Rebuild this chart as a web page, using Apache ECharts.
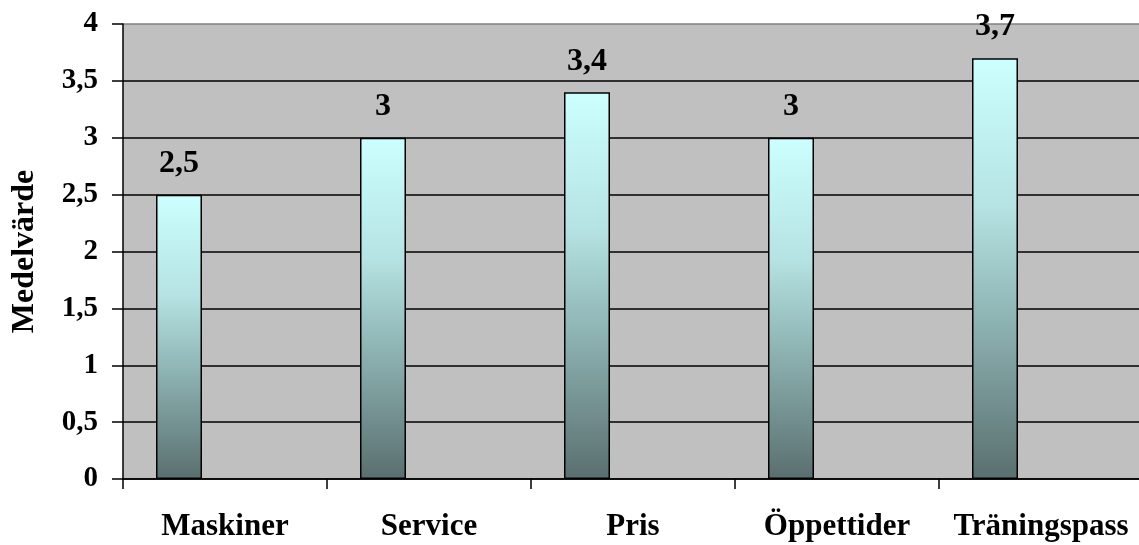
<!DOCTYPE html>
<html>
<head>
<meta charset="utf-8">
<script src="https://cdn.jsdelivr.net/npm/echarts@6/dist/echarts.min.js"></script>
<style>
html,body{margin:0;padding:0;background:#fff;}
#chart{width:1139px;height:545px;}
</style>
</head>
<body>
<div id="chart"></div>
<script>
const categories = ['Maskiner', 'Service', 'Pris', 'Öppettider', 'Träningspass'];
const values = [2.5, 3, 3.4, 3, 3.7];
const emptyValues = [null, null, null, null, null];
const yTicks = { min: 0, max: 4, interval: 0.5 };
const yTitle = 'Medelvärde';

const font = '"Liberation Serif", "Times New Roman", serif';
const fmt = v => String(v).replace('.', ',');

const chart = echarts.init(document.getElementById('chart'));
chart.setOption({
  animation: false,
  backgroundColor: '#ffffff',
  grid: {
    left: 123, top: 24, width: 1020, height: 455,
    show: true, backgroundColor: '#C0C0C0', borderWidth: 0,
    containLabel: false,
    outerBoundsMode: 'none'
  },
  xAxis: {
    type: 'category',
    data: categories,
    boundaryGap: true,
    axisLine: { show: true, lineStyle: { color: '#000', width: 1.5 } },
    axisTick: { show: true, length: 10, lineStyle: { color: '#000', width: 1.5 } },
    axisLabel: {
      margin: 32, color: '#000', fontFamily: font, fontWeight: 'bold', fontSize: 31, interval: 0
    },
    splitLine: { show: false }
  },
  yAxis: {
    type: 'value',
    min: yTicks.min, max: yTicks.max, interval: yTicks.interval,
    name: yTitle,
    nameLocation: 'middle',
    nameGap: 82,
    nameRotate: 90,
    nameTextStyle: { color: '#000', fontFamily: font, fontWeight: 'bold', fontSize: 32 },
    axisLine: { show: true, lineStyle: { color: '#000', width: 1.5 } },
    axisTick: { show: true, length: 11, lineStyle: { color: '#000', width: 1.5 } },
    axisLabel: {
      margin: 25, color: '#000', fontFamily: font, fontWeight: 'bold', fontSize: 29,
      formatter: v => fmt(v)
    },
    splitLine: {
      show: true,
      lineStyle: {
        color: ['#000', '#000', '#000', '#000', '#000', '#000', '#000', '#000', '#808080'],
        width: 1.5
      }
    }
  },
  series: [
    {
      type: 'bar',
      data: values,
      barWidth: 46,
      barGap: '0%',
      itemStyle: {
        borderColor: '#000',
        borderWidth: 1.5,
        color: new echarts.graphic.LinearGradient(0, 0, 0, 1, [
          { offset: 0, color: '#CCFFFF' },
          { offset: 0.35, color: '#B6E3E3' },
          { offset: 0.6, color: '#91B7B7' },
          { offset: 1, color: '#5A6F6F' }
        ])
      },
      label: {
        show: true, position: 'top', distance: 15,
        color: '#000', fontFamily: font, fontWeight: 'bold', fontSize: 32,
        formatter: p => fmt(p.value)
      }
    },
    { type: 'bar', data: emptyValues, barWidth: 46, barGap: '0%' },
    { type: 'bar', data: emptyValues, barWidth: 46, barGap: '0%' }
  ]
});
</script>
</body>
</html>
